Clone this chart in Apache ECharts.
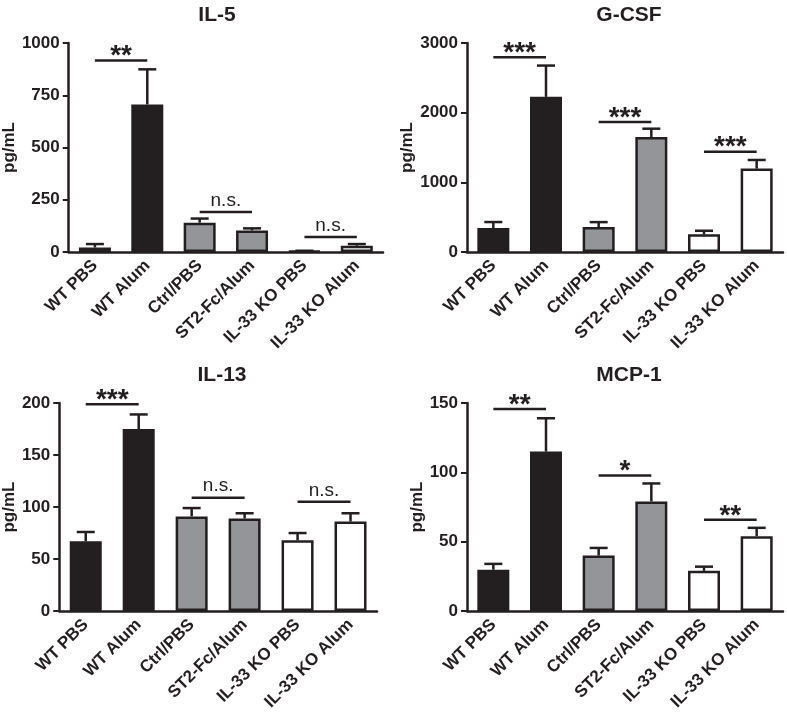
<!DOCTYPE html>
<html><head><meta charset="utf-8">
<script src="https://cdn.jsdelivr.net/npm/echarts@6/dist/echarts.min.js"></script>
<style>html,body{margin:0;padding:0;background:#fff}#c{width:787px;height:713px}</style>
</head><body><div id="c"></div><script>
const categories = ['WT PBS', 'WT Alum', 'Ctrl/PBS', 'ST2-Fc/Alum', 'IL-33 KO PBS', 'IL-33 KO Alum'];

const il5Mean = [22, 706, 140, 103, 4, 30];
const il5ErrTop = [38, 874, 160, 113, 6, 38];
const il5Sig = [[0, 1, 916, '**'], [2, 3, 191, 'n.s.'], [4, 5, 72, 'n.s.']];

const gcsfMean = [343, 2227, 358, 1650, 253, 1197];
const gcsfErrTop = [430, 2676, 429, 1770, 305, 1321];
const gcsfSig = [[0, 1, 2795, '***'], [2, 3, 1865, '***'], [4, 5, 1440, '***']];

const il13Mean = [67, 175, 91, 89, 68, 86];
const il13ErrTop = [76, 189, 99, 94, 75, 94];
const il13Sig = [[0, 1, 198.7, '***'], [2, 3, 109, 'n.s.'], [4, 5, 105, 'n.s.']];

const mcpMean = [29.8, 115, 40, 79, 29, 54];
const mcpErrTop = [34, 139, 45.5, 92, 32, 60];
const mcpSig = [[0, 1, 145.7, '**'], [2, 3, 97.8, '*'], [4, 5, 65.8, '**']];

const yMax = [1000, 3000, 200, 150];
const yInterval = [250, 1000, 50, 50];
const titles = ['IL-5', 'G-CSF', 'IL-13', 'MCP-1'];

// styles / layout
const FF = '"Liberation Sans", Arial, Helvetica, sans-serif';
const INK = '#231f20';
const fills = [INK, INK, '#939598', '#939598', '#ffffff', '#ffffff'];
const grids = [
  {left: 68, top: 43, width: 315, height: 209},
  {left: 467, top: 43, width: 316, height: 209},
  {left: 59, top: 403, width: 318, height: 209},
  {left: 467, top: 403, width: 316, height: 209}
];
const nameGaps = [44, 45, 35, 37];
const titlePos = [[212, 0], [624, 0], [217, 360], [624, 360]];

const panels = [
  {mean: il5Mean, err: il5ErrTop, sig: il5Sig},
  {mean: gcsfMean, err: gcsfErrTop, sig: gcsfSig},
  {mean: il13Mean, err: il13ErrTop, sig: il13Sig},
  {mean: mcpMean, err: mcpErrTop, sig: mcpSig}
];

const option = {
  backgroundColor: '#fff',
  animation: false,
  title: [], grid: [], xAxis: [], yAxis: [], series: []
};

panels.forEach((p, k) => {
  option.title.push({
    text: titles[k], left: titlePos[k][0], top: titlePos[k][1], textAlign: 'center',
    textStyle: {fontFamily: FF, fontWeight: 'bold', fontSize: 21, color: INK}
  });
  option.grid.push(Object.assign({containLabel: false}, grids[k]));
  option.xAxis.push({
    type: 'category', gridIndex: k, data: categories, boundaryGap: true,
    axisLine: {lineStyle: {color: INK, width: 2.5}},
    axisTick: {alignWithLabel: true, length: 5, lineStyle: {color: INK, width: 2}},
    axisLabel: {rotate: 45, interval: 0, margin: 11, fontFamily: FF, fontWeight: 'bold', fontSize: 17, color: INK}
  });
  option.yAxis.push({
    type: 'value', gridIndex: k, min: 0, max: yMax[k], interval: yInterval[k],
    name: 'pg/mL', nameLocation: 'middle', nameGap: nameGaps[k], nameRotate: 90,
    nameTextStyle: {fontFamily: FF, fontWeight: 'bold', fontSize: 17, color: INK},
    splitLine: {show: false},
    axisLine: {show: true, lineStyle: {color: INK, width: 2.5}},
    axisTick: {show: true, length: 6, lineStyle: {color: INK, width: 2}},
    axisLabel: {margin: 9, fontFamily: FF, fontWeight: 'bold', fontSize: 17, color: INK,
      formatter: v => String(v)}
  });
  option.series.push({
    type: 'bar', xAxisIndex: k, yAxisIndex: k, barWidth: 32,
    data: p.mean.map((v, i) => ({value: v, itemStyle: {color: fills[i], borderColor: INK, borderWidth: 2.5}})),
    z: 2
  });
  option.series.push({
    type: 'custom', xAxisIndex: k, yAxisIndex: k, z: 3,
    data: p.mean.map((v, i) => [i, v, p.err[i]]),
    renderItem: function (params, api) {
      const a = api.coord([api.value(0), api.value(1)]);
      const b = api.coord([api.value(0), api.value(2)]);
      const st = {stroke: INK, lineWidth: 2.5};
      return {type: 'group', children: [
        {type: 'line', shape: {x1: a[0], y1: a[1], x2: b[0], y2: b[1]}, style: st},
        {type: 'line', shape: {x1: b[0] - 9, y1: b[1], x2: b[0] + 9, y2: b[1]}, style: st}
      ]};
    }
  });
  option.series.push({
    type: 'custom', xAxisIndex: k, yAxisIndex: k, z: 3,
    data: p.sig.map(s => [s[0], s[1], s[2]]),
    renderItem: function (params, api) {
      const s = p.sig[params.dataIndex];
      const a = api.coord([s[0], s[2]]);
      const b = api.coord([s[1], s[2]]);
      const isStar = s[3].indexOf('*') >= 0;
      return {type: 'group', children: [
        {type: 'line', shape: {x1: a[0], y1: a[1], x2: b[0], y2: b[1]}, style: {stroke: INK, lineWidth: 2.5}},
        {type: 'text', x: (a[0] + b[0]) / 2, y: isStar ? a[1] - 18 : a[1] - 2,
          style: {text: s[3], align: 'center', verticalAlign: isStar ? 'top' : 'bottom',
            fontFamily: FF, fontSize: isStar ? 28 : 19, fontWeight: isStar ? 'bold' : 'normal', fill: INK}}
      ]};
    }
  });
});

const chart = echarts.init(document.getElementById('c'), null, {renderer: 'canvas'});
chart.setOption(option);
</script></body></html>
